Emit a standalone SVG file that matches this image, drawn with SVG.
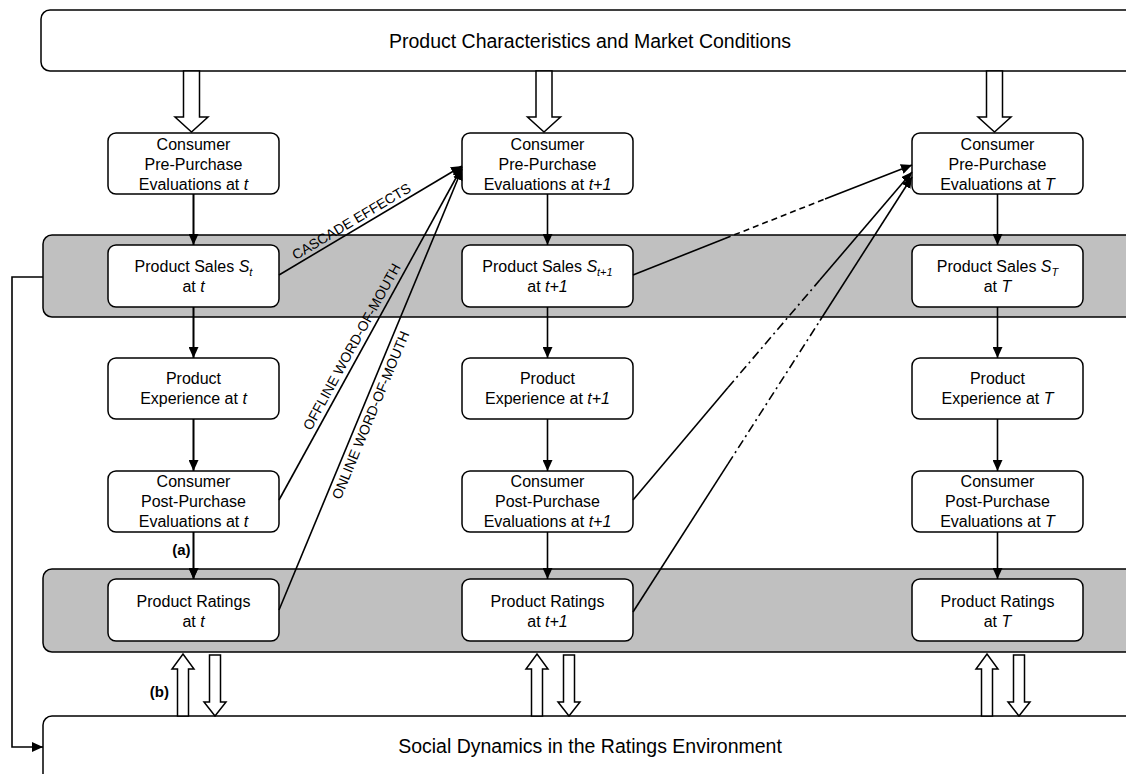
<svg xmlns="http://www.w3.org/2000/svg" width="1126" height="774" viewBox="0 0 1126 774">
<style>
.box{fill:#fff;stroke:#000;stroke-width:1.5}
.band{fill:#c0c0c0;stroke:#000;stroke-width:1.5}
.t{font-family:"Liberation Sans",Arial,sans-serif;font-size:16px;text-anchor:middle;fill:#000}
.title{font-size:19.5px}
.lab{font-family:"Liberation Sans",Arial,sans-serif;font-size:14px;text-anchor:middle;fill:#000}
.bold{font-family:"Liberation Sans",Arial,sans-serif;font-size:15px;font-weight:bold;fill:#000}
.i{font-style:italic}
.ln{stroke:#000;stroke-width:1.6;fill:none}
.blk{fill:#fff;stroke:#000;stroke-width:1.5}
</style>
<defs>
<marker id="ah" markerUnits="userSpaceOnUse" markerWidth="12" markerHeight="10" refX="11" refY="5" orient="auto">
<path d="M0,0 L11,5 L0,10 z" fill="#000"/>
</marker>
</defs>

<g id="market">
<rect class="box" x="41" y="10" width="1100" height="61" rx="9"/>
<text class="t title" x="590" y="48">Product Characteristics and Market Conditions</text>
</g>

<g id="sales-band"><rect class="band" x="43" y="235" width="1100" height="82" rx="9"/></g>
<g id="ratings-band"><rect class="band" x="43" y="569" width="1100" height="83" rx="9"/></g>

<g id="social">
<rect class="box" x="43" y="716" width="1100" height="80" rx="9"/>
<text class="t title" x="590" y="753">Social Dynamics in the Ratings Environment</text>
</g>

<g id="pre-t"><rect class="box" x="108" y="133" width="171" height="61" rx="8"/>
<text class="t" x="193.5" y="150">Consumer</text><text class="t" x="193.5" y="170">Pre-Purchase</text>
<text class="t" x="193.5" y="190">Evaluations at <tspan class="i">t</tspan></text></g>
<g id="pre-t1"><rect class="box" x="462" y="133" width="171" height="61" rx="8"/>
<text class="t" x="547.5" y="150">Consumer</text><text class="t" x="547.5" y="170">Pre-Purchase</text>
<text class="t" x="547.5" y="190">Evaluations at <tspan class="i">t+1</tspan></text></g>
<g id="pre-T"><rect class="box" x="912" y="133" width="171" height="61" rx="8"/>
<text class="t" x="997.5" y="150">Consumer</text><text class="t" x="997.5" y="170">Pre-Purchase</text>
<text class="t" x="997.5" y="190">Evaluations at <tspan class="i">T</tspan></text></g>

<g id="sales-t"><rect class="box" x="108" y="245" width="171" height="62" rx="8"/>
<text class="t" x="193.5" y="272">Product Sales <tspan class="i">S</tspan><tspan class="i" font-size="11" dy="4">t</tspan></text>
<text class="t" x="193.5" y="292">at <tspan class="i">t</tspan></text></g>
<g id="sales-t1"><rect class="box" x="462" y="245" width="171" height="62" rx="8"/>
<text class="t" x="547.5" y="272">Product Sales <tspan class="i">S</tspan><tspan class="i" font-size="11" dy="4">t+1</tspan></text>
<text class="t" x="547.5" y="292">at <tspan class="i">t+1</tspan></text></g>
<g id="sales-T"><rect class="box" x="912" y="245" width="171" height="62" rx="8"/>
<text class="t" x="997.5" y="272">Product Sales <tspan class="i">S</tspan><tspan class="i" font-size="11" dy="4">T</tspan></text>
<text class="t" x="997.5" y="292">at <tspan class="i">T</tspan></text></g>

<g id="exp-t"><rect class="box" x="108" y="358" width="171" height="61" rx="8"/>
<text class="t" x="193.5" y="384">Product</text><text class="t" x="193.5" y="404">Experience at <tspan class="i">t</tspan></text></g>
<g id="exp-t1"><rect class="box" x="462" y="358" width="171" height="61" rx="8"/>
<text class="t" x="547.5" y="384">Product</text><text class="t" x="547.5" y="404">Experience at <tspan class="i">t+1</tspan></text></g>
<g id="exp-T"><rect class="box" x="912" y="358" width="171" height="61" rx="8"/>
<text class="t" x="997.5" y="384">Product</text><text class="t" x="997.5" y="404">Experience at <tspan class="i">T</tspan></text></g>

<g id="post-t"><rect class="box" x="108" y="471" width="171" height="61" rx="8"/>
<text class="t" x="193.5" y="487">Consumer</text><text class="t" x="193.5" y="507">Post-Purchase</text>
<text class="t" x="193.5" y="527">Evaluations at <tspan class="i">t</tspan></text></g>
<g id="post-t1"><rect class="box" x="462" y="471" width="171" height="61" rx="8"/>
<text class="t" x="547.5" y="487">Consumer</text><text class="t" x="547.5" y="507">Post-Purchase</text>
<text class="t" x="547.5" y="527">Evaluations at <tspan class="i">t+1</tspan></text></g>
<g id="post-T"><rect class="box" x="912" y="471" width="171" height="61" rx="8"/>
<text class="t" x="997.5" y="487">Consumer</text><text class="t" x="997.5" y="507">Post-Purchase</text>
<text class="t" x="997.5" y="527">Evaluations at <tspan class="i">T</tspan></text></g>

<g id="rat-t"><rect class="box" x="108" y="579" width="171" height="62" rx="8"/>
<text class="t" x="193.5" y="607">Product Ratings</text><text class="t" x="193.5" y="627">at <tspan class="i">t</tspan></text></g>
<g id="rat-t1"><rect class="box" x="462" y="579" width="171" height="62" rx="8"/>
<text class="t" x="547.5" y="607">Product Ratings</text><text class="t" x="547.5" y="627">at <tspan class="i">t+1</tspan></text></g>
<g id="rat-T"><rect class="box" x="912" y="579" width="171" height="62" rx="8"/>
<text class="t" x="997.5" y="607">Product Ratings</text><text class="t" x="997.5" y="627">at <tspan class="i">T</tspan></text></g>

<g id="connectors">
<polygon class="blk" points="183.5,71 199.5,71 199.5,117 208,117 191.5,132 175,117 183.5,117"/>
<polygon class="blk" points="536,71 552,71 552,117 560.5,117 544,132 527.5,117 536,117"/>
<polygon class="blk" points="986.5,71 1002.5,71 1002.5,117 1011,117 994.5,132 978,117 986.5,117"/>

<path class="ln" marker-end="url(#ah)" d="M193.5,194 V245 M193.5,307 V358 M193.5,419 V471 M193.5,532 V579"/>
<path class="ln" marker-end="url(#ah)" d="M193.5,194 V245"/>
<path class="ln" marker-end="url(#ah)" d="M193.5,307 V358"/>
<path class="ln" marker-end="url(#ah)" d="M193.5,419 V471"/>
<path class="ln" marker-end="url(#ah)" d="M193.5,532 V579"/>
<path class="ln" marker-end="url(#ah)" d="M547.5,194 V245"/>
<path class="ln" marker-end="url(#ah)" d="M547.5,307 V358"/>
<path class="ln" marker-end="url(#ah)" d="M547.5,419 V471"/>
<path class="ln" marker-end="url(#ah)" d="M547.5,532 V579"/>
<path class="ln" marker-end="url(#ah)" d="M997.5,194 V245"/>
<path class="ln" marker-end="url(#ah)" d="M997.5,307 V358"/>
<path class="ln" marker-end="url(#ah)" d="M997.5,419 V471"/>
<path class="ln" marker-end="url(#ah)" d="M997.5,532 V579"/>

<path class="ln" marker-end="url(#ah)" d="M43,277 H12 V747 H43"/>

<path class="ln" marker-end="url(#ah)" d="M279,275 L462,166"/>
<path class="ln" marker-end="url(#ah)" d="M279,500 L462,167"/>
<path class="ln" marker-end="url(#ah)" d="M279,610 L462,169"/>

<path class="ln" d="M633,275 L725,238.5"/>
<path class="ln" stroke-dasharray="6,4" d="M725,238.5 L825,199"/>
<path class="ln" marker-end="url(#ah)" d="M825,199 L912,165"/>

<path class="ln" d="M633,500 L728,387.5"/>
<path class="ln" stroke-dasharray="9,4,2,4" d="M728,387.5 L820,279.8"/>
<path class="ln" marker-end="url(#ah)" d="M820,279.8 L912,172"/>

<path class="ln" d="M633,612 L728,463.9"/>
<path class="ln" stroke-dasharray="9,4,2,4" d="M728,463.9 L820,320.5"/>
<path class="ln" marker-end="url(#ah)" d="M820,320.5 L912,177"/>

<polygon class="blk" points="177.5,716 177.5,669 172,669 183,654 194,669 188.5,669 188.5,716"/>
<polygon class="blk" points="209.5,655 220.5,655 220.5,702 226,702 215,716 204,702 209.5,702"/>
<polygon class="blk" points="531.5,716 531.5,669 526,669 537,654 548,669 542.5,669 542.5,716"/>
<polygon class="blk" points="563.5,655 574.5,655 574.5,702 580,702 569,716 558,702 563.5,702"/>
<polygon class="blk" points="981.5,716 981.5,669 976,669 987,654 998,669 992.5,669 992.5,716"/>
<polygon class="blk" points="1013.5,655 1024.5,655 1024.5,702 1030,702 1019,716 1008,702 1013.5,702"/>

<text class="lab" transform="translate(354,225.5) rotate(-30.78)">CASCADE EFFECTS</text>
<text class="lab" transform="translate(356,349) rotate(-61.28)">OFFLINE WORD-OF-MOUTH</text>
<text class="lab" transform="translate(375,417) rotate(-67.5)">ONLINE WORD-OF-MOUTH</text>
<text class="bold" x="190.5" y="555" text-anchor="end">(a)</text>
<text class="bold" x="169" y="697" text-anchor="end">(b)</text>
</g>
</svg>
